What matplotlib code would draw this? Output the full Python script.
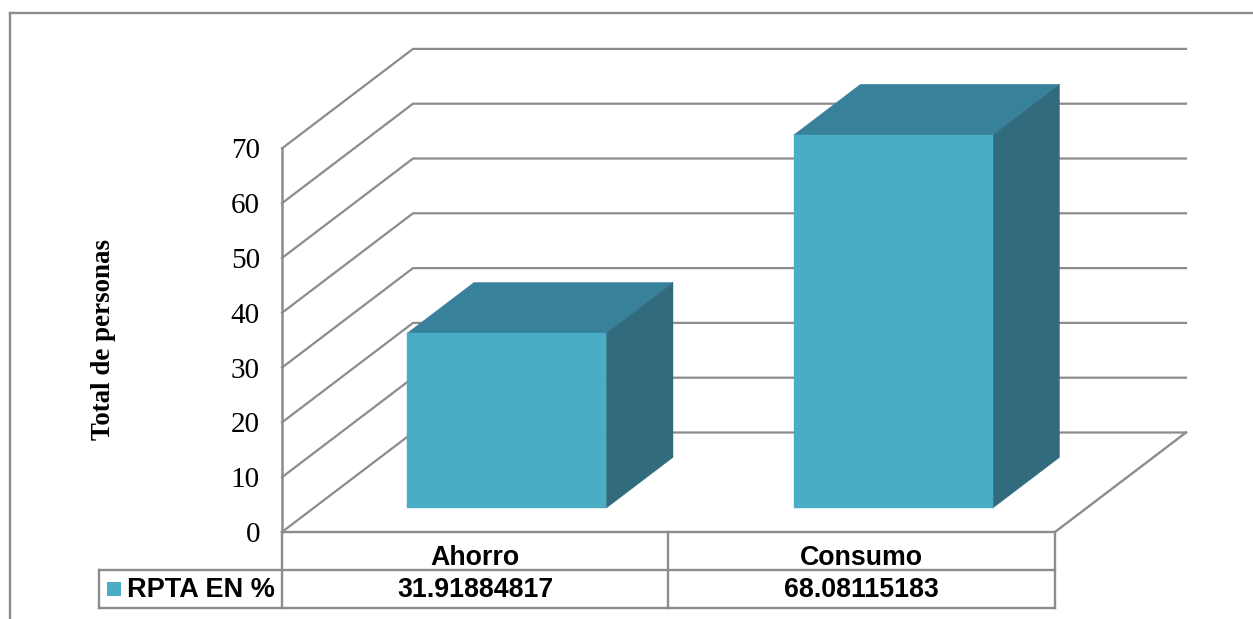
import matplotlib
matplotlib.use('Agg')
import matplotlib.pyplot as plt
from matplotlib.patches import Polygon, Rectangle
from matplotlib.transforms import Affine2D

categories = ['Ahorro', 'Consumo']
values = [31.91884817, 68.08115183]
value_labels = ['31.91884817', '68.08115183']
series_name = 'RPTA EN %'
y_ticks = [0, 10, 20, 30, 40, 50, 60, 70]
y_label = 'Total de personas'

W, H = 1253, 619
X0, Y0 = 282, 532        # front left corner of the floor, pixels
X_UNIT = 386.5           # pixels per category
Y_UNIT = 5.48            # pixels per value unit
DX = 131 / X_UNIT        # full depth of the box, in data units
DY = 99.5 / Y_UNIT
BAR_W = 199 / X_UNIT
D_FRONT, D_BACK = 0.24, 0.75

FRONT = '#4BACC6'
TOP = '#37829A'
SIDE = '#316B7D'
LINE = '#8C8C8C'

fig = plt.figure(figsize=(W / 100, H / 100), dpi=100)
ax = fig.add_axes([0, 0, 1, 1])
ax.set_xlim(-X0 / X_UNIT, (W - X0) / X_UNIT)
ax.set_ylim(-(H - Y0) / Y_UNIT, Y0 / Y_UNIT)
ax.axis('off')

# pixel coordinates, top left origin, for the frame and the data table
pix = Affine2D().scale(1, -1).translate(0, H)


def pt(x, v, d=0.0):
    return (x + d * DX, v + d * DY)


def pline(xs, ys, lw=1.7):
    ax.plot(xs, ys, color=LINE, lw=lw, transform=pix, solid_capstyle='projecting', clip_on=False, zorder=1)


n = len(categories)
top = y_ticks[-1]

# back wall + left wall gridlines
for t in y_ticks:
    a, b, c = pt(0, t), pt(0, t, 1), pt(n, t, 1)
    ax.plot([a[0], b[0], c[0]], [a[1], b[1], c[1]], color=LINE, lw=1.6, zorder=1)
a, b = pt(0, 0), pt(0, top)
ax.plot([a[0], b[0]], [a[1], b[1]], color=LINE, lw=1.8, zorder=1)

# floor
f = [pt(0, 0), pt(n, 0), pt(n, 0, 1)]
ax.plot([p[0] for p in f], [p[1] for p in f], color=LINE, lw=1.7, zorder=1)

# bars
for i, v in enumerate(values):
    x0 = i + 0.5 - BAR_W / 2
    x1 = x0 + BAR_W
    ax.add_patch(Polygon([pt(x0, v, D_FRONT), pt(x1, v, D_FRONT), pt(x1, v, D_BACK), pt(x0, v, D_BACK)],
                         fc=TOP, ec=TOP, lw=0.3, zorder=3))
    ax.add_patch(Polygon([pt(x1, 0, D_FRONT), pt(x1, 0, D_BACK), pt(x1, v, D_BACK), pt(x1, v, D_FRONT)],
                         fc=SIDE, ec=SIDE, lw=0.3, zorder=3))
    ax.add_patch(Polygon([pt(x0, 0, D_FRONT), pt(x1, 0, D_FRONT), pt(x1, v, D_FRONT), pt(x0, v, D_FRONT)],
                         fc=FRONT, ec=FRONT, lw=0.3, zorder=4))

# y axis labels
for t in y_ticks:
    ax.text(-22 / X_UNIT, t, str(t), ha='right', va='center_baseline', family='Liberation Serif', fontsize=21, color='k')
ax.text(104, 340, y_label, transform=pix, rotation=90, ha='center', va='center',
        family='Liberation Serif', fontweight='bold', fontsize=19.4, color='k')

# outer frame
pline([10, 10], [619, 13])
pline([10, 1253], [13, 13])

# data table
pline([282, 282], [532, 608])
pline([668, 668], [532, 608])
pline([1055, 1055], [532, 608])
pline([99, 1055], [570, 570])
pline([99, 1055], [608, 608])
pline([99, 99], [570, 608])
for i, (c, lab) in enumerate(zip(categories, value_labels)):
    xc = 282 + (i + 0.5) * X_UNIT
    ax.text(xc, 558, c, transform=pix, ha='center', va='center', family='Liberation Sans',
            fontweight='bold', fontsize=19.3, color='k')
    ax.text(xc, 590, lab, transform=pix, ha='center', va='center', family='Liberation Sans',
            fontweight='bold', fontsize=19.3, color='k')
ax.add_patch(Rectangle((107, 582), 14, 14, transform=pix, fc=FRONT, ec='none', zorder=3))
ax.text(127, 590, series_name, transform=pix, ha='left', va='center', family='Liberation Sans',
        fontweight='bold', fontsize=19.5, color='k')

fig.savefig('out.png', dpi=100)
